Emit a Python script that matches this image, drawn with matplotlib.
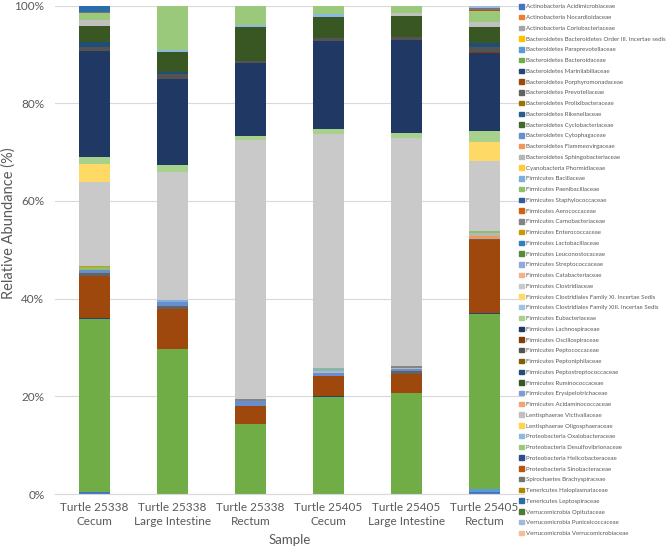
import colorsys
import numpy as np
import matplotlib
matplotlib.use('Agg')
import matplotlib.pyplot as plt
from matplotlib.patches import Patch

plt.rcParams['font.family'] = ['Lato', 'DejaVu Sans']

samples = ['Turtle 25338\nCecum', 'Turtle 25338\nLarge Intestine', 'Turtle 25338\nRectum',
           'Turtle 25405\nCecum', 'Turtle 25405\nLarge Intestine', 'Turtle 25405\nRectum']

families = [
    'Actinobacteria Acidimicrobiaceae', 'Actinobacteria Nocardioidaceae',
    'Actinobacteria Coriobacteriaceae', 'Bacteroidetes Bacteroidetes Order III. Incertae sedis',
    'Bacteroidetes Paraprevotellaceae', 'Bacteroidetes Bacteroidaceae',
    'Bacteroidetes Marinilabiliaceae', 'Bacteroidetes Porphyromonadaceae',
    'Bacteroidetes Prevotellaceae', 'Bacteroidetes Prolixibacteraceae',
    'Bacteroidetes Rikenellaceae', 'Bacteroidetes Cyclobacteriaceae',
    'Bacteroidetes Cytophagaceae', 'Bacteroidetes Flammeovirgaceae',
    'Bacteroidetes Sphingobacteriaceae', 'Cyanobacteria Phormidiaceae',
    'Firmicutes Bacillaceae', 'Firmicutes Paenibacillaceae',
    'Firmicutes Staphylococcaceae', 'Firmicutes Aerococcaceae',
    'Firmicutes Carnobacteriaceae', 'Firmicutes Enterococcaceae',
    'Firmicutes Lactobacillaceae', 'Firmicutes Leuconostocaceae',
    'Firmicutes Streptococcaceae', 'Firmicutes Catabacteriaceae',
    'Firmicutes Clostridiaceae', 'Firmicutes Clostridiales Family XI. Incertae Sedis',
    'Firmicutes Clostridiales Family XIII. Incertae Sedis', 'Firmicutes Eubacteriaceae',
    'Firmicutes Lachnospiraceae', 'Firmicutes Oscillospiraceae',
    'Firmicutes Peptococcaceae', 'Firmicutes Peptoniphilaceae',
    'Firmicutes Peptostreptococcaceae', 'Firmicutes Ruminococcaceae',
    'Firmicutes Erysipelotrichaceae', 'Firmicutes Acidaminococcaceae',
    'Lentisphaerae Victivallaceae', 'Lentisphaerae Oligosphaeraceae',
    'Proteobacteria Oxalobacteraceae', 'Proteobacteria Desulfovibrionaceae',
    'Proteobacteria Helicobacteraceae', 'Proteobacteria Sinobacteraceae',
    'Spirochaetes Brachyspiraceae', 'Tenericutes Haloplasmataceae',
    'Tenericutes Leptospiraceae', 'Verrucomicrobia Opitutaceae',
    'Verrucomicrobia Puniceicoccaceae', 'Verrucomicrobia Verrucomicrobiaceae',
]

# relative abundance (%) per sample, in the order of families
t25338_cecum = [0.5, 0, 0, 0, 0, 35.3, 0.3, 8.6, 0.6, 0,
                0, 0, 0.6, 0, 0, 0, 0, 0.5, 0, 0,
                0, 0.3, 0, 0, 0, 0, 17.2, 3.7, 0, 1.4,
                21.6, 0, 1.0, 0, 0.9, 3.3, 0, 0, 1.2, 0,
                0, 1.4, 0, 0, 0.3, 0, 1.2, 0, 0, 0]
t25338_large = [0, 0, 0, 0, 0, 29.6, 0, 8.2, 0.7, 0,
                0, 0, 0.9, 0, 0, 0, 0.3, 0, 0, 0,
                0, 0, 0, 0, 0, 0, 26.2, 0, 0, 1.5,
                17.5, 0, 1.1, 0, 0.3, 4.1, 0, 0, 0, 0,
                0.5, 9.0, 0, 0, 0, 0, 0, 0, 0, 0]
t25338_rectum = [0, 0, 0, 0, 0, 14.4, 0, 3.6, 0, 0,
                 0, 0, 1.1, 0, 0, 0, 0, 0, 0, 0,
                 0.3, 0, 0, 0, 0, 0, 53.1, 0, 0, 0.8,
                 14.9, 0, 0.5, 0, 0, 6.8, 0, 0, 0, 0,
                 0.6, 3.8, 0, 0, 0, 0, 0, 0, 0, 0]
t25405_cecum = [0, 0, 0, 0, 0, 19.9, 0.2, 4.1, 0, 0,
                0, 0, 0.5, 0, 0.4, 0, 0.4, 0.2, 0, 0,
                0, 0, 0, 0, 0, 0, 48.1, 0, 0, 0.9,
                18.1, 0, 0.5, 0, 0, 4.4, 0, 0, 0, 0,
                0.5, 1.8, 0, 0, 0, 0, 0, 0, 0, 0]
t25405_large = [0, 0, 0, 0, 0, 20.7, 0, 3.8, 0.6, 0,
                0, 0, 0.4, 0, 0.4, 0, 0, 0, 0, 0,
                0.3, 0, 0, 0, 0, 0, 46.7, 0, 0, 1.0,
                19.0, 0, 0.6, 0, 0, 4.3, 0, 0, 0.7, 0,
                0, 1.5, 0, 0, 0, 0, 0, 0, 0, 0]
t25405_rectum = [0.5, 0, 0, 0, 0.5, 35.8, 0.2, 14.9, 0.4, 0,
                 0, 0, 0, 0.6, 0.6, 0, 0, 0.4, 0, 0,
                 0, 0, 0, 0, 0, 0, 14.3, 3.9, 0, 2.3,
                 15.8, 0.2, 1.1, 0, 0.9, 3.2, 0, 0, 1.0, 0,
                 0, 2.2, 0, 0.3, 0.4, 0, 0, 0, 0.4, 0]

data = np.array([t25338_cecum, t25338_large, t25338_rectum,
                 t25405_cecum, t25405_large, t25405_rectum]).T

# Office theme colours with the usual excel shade steps
accents = ['#4472C4', '#ED7D31', '#A5A5A5', '#FFC000', '#5B9BD5', '#70AD47']
shades = [(1, 0), (0.6, 0), (0.8, 0.2), (0.8, 0), (0.6, 0.4),
          (0.5, 0), (0.7, 0.3), (0.7, 0), (0.5, 0.5)]
colors = []
for mod, off in shades:
    for a in accents:
        r, g, b = matplotlib.colors.to_rgb(a)
        h, l, s = colorsys.rgb_to_hls(r, g, b)
        colors.append(colorsys.hls_to_rgb(h, min(1, l * mod + off), s))
colors = colors[:len(families)]

fig = plt.figure(figsize=(6.71, 5.51), dpi=100)
ax = fig.add_axes([0.0827, 0.1034, 0.6975, 0.8866])

x = np.arange(len(samples))
bottom = np.zeros(len(samples))
for i, fam in enumerate(families):
    ax.bar(x, data[i], 0.4, bottom=bottom, color=colors[i], label=fam, linewidth=0)
    bottom += data[i]

ax.set_xlim(-0.5, 5.5)
ax.set_ylim(0, 100)
ax.set_yticks(range(0, 101, 20))
ax.set_yticklabels([f'{v}%' for v in range(0, 101, 20)])
ax.set_xticks(x)
ax.set_xticklabels(samples, linespacing=1.3)
ax.grid(axis='y', color='#D9D9D9', linewidth=0.8)
ax.set_axisbelow(True)
for sp in ['top', 'right', 'left']:
    ax.spines[sp].set_visible(False)
ax.spines['bottom'].set_color('#D9D9D9')
ax.tick_params(length=0, colors='#595959', labelsize=8.5)
ax.tick_params(axis='x', pad=6)
ax.tick_params(axis='y', pad=8)
ax.set_xlabel('Sample', fontsize=9.5, color='#595959', labelpad=5)
ax.set_ylabel('Relative Abundance (%)', fontsize=10.5, color='#595959')
ax.yaxis.set_label_coords(-0.086, 0.555)

handles = [Patch(color=c) for c in colors]
leg = fig.legend(handles, families, loc='upper left', bbox_to_anchor=(0.770, 0.997),
                 frameon=False, fontsize=4.4, handlelength=0.75, handleheight=0.75,
                 handletextpad=0.4, labelspacing=0.88, borderaxespad=0)
for t in leg.get_texts():
    t.set_color('#595959')

plt.savefig('out.png', dpi=100)
